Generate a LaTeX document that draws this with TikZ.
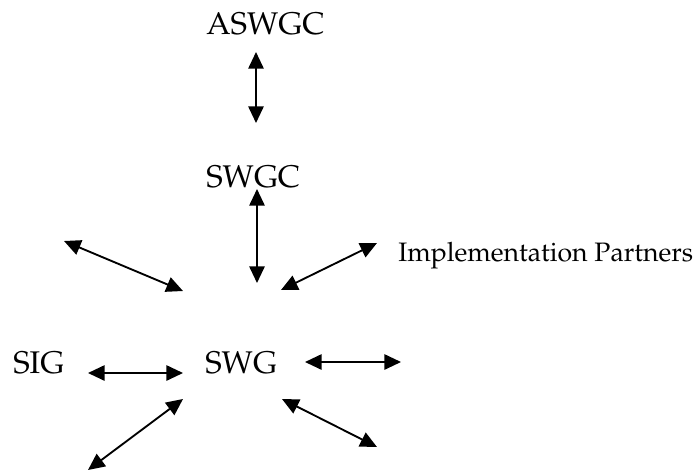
\documentclass[tikz,border=0pt]{standalone}
\usepackage[T1]{fontenc}
\usepackage{mathpazo}
\usetikzlibrary{arrows.meta}
\begin{document}
\begin{tikzpicture}[x=0.75pt,y=-0.75pt,
  lbl/.style={inner sep=0pt,anchor=base west,font=\fontsize{23.5}{28}\selectfont},
  smalllbl/.style={inner sep=0pt,anchor=base west,font=\fontsize{20}{24}\selectfont},
  link/.style={line width=1.4pt,{Triangle[length=12.5pt,width=11.5pt]}-{Triangle[length=12.5pt,width=11.5pt]}}]
\useasboundingbox (0,0) rectangle (696,472);
\node[lbl] (aswgc) at (206,34) {ASWGC};
\node[lbl] (swgc) at (206,187) {SWGC};
\node[lbl] (swg) at (205,373) {SWG};
\node[lbl] (sig) at (13,373) {SIG};
\node[smalllbl] (ip) at (398,261) {Implementation Partners};
% arrow end points
\coordinate (a1) at (256,52);  \coordinate (a2) at (256,123);
\coordinate (b1) at (257,189); \coordinate (b2) at (257,283);
\coordinate (c1) at (64,241);  \coordinate (c2) at (183,291);
\coordinate (d1) at (281,290); \coordinate (d2) at (377,243);
\coordinate (e1) at (88,373);  \coordinate (e2) at (183,373);
\coordinate (f1) at (305,362); \coordinate (f2) at (401,362);
\coordinate (g1) at (183,399); \coordinate (g2) at (88,470);
\coordinate (h1) at (282,399); \coordinate (h2) at (377,447);
\draw[link] (a1) -- (a2);
\draw[link] (b1) -- (b2);
\draw[link] (c1) -- (c2);
\draw[link] (d1) -- (d2);
\draw[link] (e1) -- (e2);
\draw[link] (f1) -- (f2);
\draw[link] (g1) -- (g2);
\draw[link] (h1) -- (h2);
\end{tikzpicture}
\end{document}
